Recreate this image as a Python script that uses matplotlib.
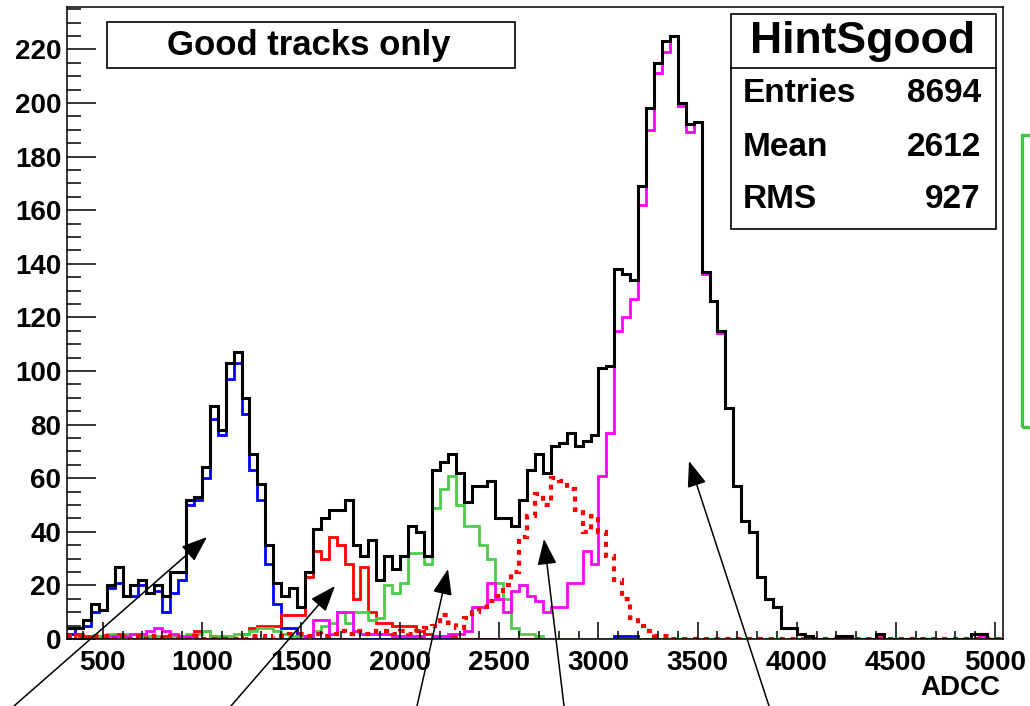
import numpy as np
import matplotlib
matplotlib.use("Agg")
import matplotlib.pyplot as plt
from matplotlib.patches import Rectangle, FancyArrowPatch
from matplotlib.ticker import MultipleLocator

plt.rcParams["font.family"] = ["Liberation Sans", "DejaVu Sans"]
plt.rcParams["font.weight"] = "bold"

# ADCC histogram: 118 bins of 40 counts, 320 .. 5040
edges = np.arange(320, 5041, 40)

total = [4, 4, 7, 13, 11, 20, 27, 16, 20, 22, 17, 20, 16, 25, 25, 52, 53, 64, 87, 78,
         103, 107, 90, 69, 58, 35, 21, 16, 19, 12, 25, 41, 45, 48, 48, 52, 35, 31, 37, 22,
         31, 26, 31, 42, 40, 31, 63, 66, 69, 62, 51, 57, 57, 59, 45, 45, 42, 52, 63, 69,
         62, 72, 73, 77, 72, 74, 76, 101, 102, 138, 136, 134, 169, 198, 215, 223, 225, 200, 192, 193,
         137, 126, 115, 86, 57, 44, 40, 23, 15, 12, 4, 4, 2, 1, 0, 0, 0, 1, 1, 0,
         0, 0, 2, 0, 0, 0, 0, 0, 0, 0, 0, 0, 0, 0, 2, 2, 0, 0]

blue = [2, 4, 5, 10, 11, 19, 21, 16, 16, 20, 17, 18, 10, 17, 22, 50, 52, 60, 82, 76,
        97, 103, 84, 63, 52, 28, 13, 4, 4, 0, 1, 0, 0, 0, 0, 0, 0, 0, 0, 0,
        0, 0, 0, 0, 0, 0, 0, 0, 0, 0, 0, 0, 0, 0, 0, 0, 0, 0, 0, 0,
        0, 0, 0, 0, 0, 0, 0, 0, 0, 1, 1, 1, 0, 0, 0, 0, 0, 0, 0, 0,
        0, 0, 0, 0, 0, 0, 0, 0, 0, 0, 0, 0, 0, 0, 0, 0, 0, 0, 0, 0,
        0, 0, 0, 0, 0, 0, 0, 0, 0, 0, 0, 0, 0, 0, 0, 0, 0, 0]

red = [0, 2, 1, 0, 1, 0, 2, 1, 0, 2, 1, 0, 1, 0, 0, 0, 3, 3, 1, 1,
       0, 0, 2, 4, 5, 5, 5, 9, 9, 9, 23, 33, 30, 38, 35, 28, 15, 27, 10, 6,
       6, 5, 5, 5, 3, 2, 1, 1, 1, 0, 0, 0, 0, 0, 0, 0, 0, 0, 0, 0,
       0, 0, 0, 0, 0, 0, 0, 0, 0, 0, 0, 0, 0, 0, 0, 0, 0, 0, 0, 0,
       0, 0, 0, 0, 0, 0, 0, 0, 0, 0, 0, 0, 0, 0, 0, 0, 0, 0, 0, 0,
       0, 0, 0, 0, 0, 0, 0, 0, 0, 0, 0, 0, 0, 0, 0, 0, 0, 0]

green = [0, 0, 0, 0, 1, 2, 1, 2, 2, 1, 1, 1, 0, 1, 0, 2, 2, 3, 1, 1,
         1, 2, 2, 3, 4, 4, 3, 2, 1, 1, 1, 3, 5, 6, 10, 6, 10, 10, 7, 8,
         20, 17, 21, 32, 32, 28, 49, 56, 61, 50, 42, 42, 35, 30, 21, 15, 4, 2, 2, 1,
         0, 0, 0, 0, 0, 0, 0, 0, 0, 0, 0, 0, 0, 0, 0, 0, 0, 0, 0, 0,
         0, 0, 0, 0, 0, 0, 0, 0, 0, 0, 0, 0, 0, 0, 0, 0, 0, 0, 0, 0,
         0, 0, 0, 0, 0, 0, 0, 0, 0, 0, 0, 0, 0, 0, 0, 0, 0, 0]

magenta = [0, 0, 0, 0, 0, 1, 1, 1, 2, 2, 3, 4, 3, 2, 1, 1, 0, 0, 0, 0,
           0, 0, 0, 0, 0, 0, 0, 0, 0, 0, 1, 7, 7, 2, 10, 10, 3, 2, 2, 2,
           2, 1, 1, 1, 1, 0, 1, 1, 2, 2, 3, 12, 12, 21, 15, 10, 18, 20, 16, 14,
           10, 12, 12, 21, 21, 33, 28, 61, 77, 115, 120, 127, 162, 190, 211, 219, 225, 199, 189, 193,
           136, 126, 114, 86, 57, 44, 40, 23, 15, 12, 4, 4, 2, 1, 0, 0, 0, 0, 0, 0,
           0, 0, 1, 0, 0, 0, 0, 0, 0, 0, 0, 0, 0, 0, 0, 1, 0, 0]

red_dotted = [1, 1, 0, 1, 1, 0, 1, 0, 0, 1, 0, 1, 0, 1, 0, 0, 1, 0, 0, 0,
              0, 0, 0, 1, 1, 0, 1, 1, 2, 2, 1, 2, 1, 2, 3, 2, 3, 2, 2, 3,
              3, 2, 3, 2, 3, 4, 5, 9, 6, 4, 8, 10, 12, 14, 16, 20, 25, 38, 46, 54,
              50, 60, 59, 56, 48, 40, 46, 40, 31, 22, 15, 8, 5, 3, 1, 1, 0, 0, 0, 0,
              0, 0, 0, 0, 0, 0, 0, 0, 0, 0, 0, 0, 0, 0, 0, 0, 0, 0, 0, 0,
              0, 0, 0, 0, 0, 0, 0, 0, 0, 0, 0, 0, 0, 0, 0, 0, 0, 0]

fig = plt.figure(figsize=(10.3, 7.06), dpi=100)
W, H = 1030.0, 706.0
ax = fig.add_axes([67 / W, 1 - 639 / H, (1003 - 67) / W, (639 - 7) / H])

ax.stairs(blue, edges, baseline=None, color="#0000ff", lw=2.0)
ax.stairs(red, edges, baseline=None, color="#ff0000", lw=2.0)
ax.stairs(green, edges, baseline=None, color="#4ccc4c", lw=2.0)
ax.stairs(magenta, edges, baseline=None, color="#ff00ff", lw=2.0)
ax.stairs(red_dotted, edges, baseline=None, color="#ff0000", lw=3.0,
          linestyle=(0, (1.2, 1.4)))
ax.stairs(total, edges, baseline=None, color="black", lw=2.2)

ax.set_xlim(320, 5040)
ax.set_ylim(0, 235.8)
ax.xaxis.set_major_locator(MultipleLocator(500))
ax.xaxis.set_minor_locator(MultipleLocator(100))
ax.yaxis.set_major_locator(MultipleLocator(20))
ax.yaxis.set_minor_locator(MultipleLocator(5))
ax.tick_params(axis="both", which="both", direction="in", width=1.1,
               top=False, right=False, labelsize=20)
ax.tick_params(axis="y", which="major", length=21, pad=4)
ax.tick_params(axis="y", which="minor", length=10)
ax.tick_params(axis="x", which="major", length=12, pad=8)
ax.tick_params(axis="x", which="minor", length=6)
for lab in ax.get_xticklabels() + ax.get_yticklabels():
    lab.set_fontweight("bold")
for sp in ax.spines.values():
    sp.set_linewidth(1.1)

fig.text(1000 / W, 1 - 688 / H, "ADCC", ha="right", va="center",
         fontsize=20, fontweight="bold")

# title box
fig.add_artist(Rectangle((107 / W, 1 - 68 / H), (515 - 107) / W, 46 / H,
                         transform=fig.transFigure, facecolor="white",
                         edgecolor="black", lw=1.2))
fig.text(309 / W, 1 - 46 / H, "Good tracks only", ha="center", va="center",
         fontsize=25, fontweight="bold")

# stats box
fig.add_artist(Rectangle((731 / W, 1 - 229 / H), (996 - 731) / W, (229 - 14) / H,
                         transform=fig.transFigure, facecolor="white",
                         edgecolor="black", lw=1.2))
fig.add_artist(plt.Line2D([731 / W, 996 / W], [1 - 68 / H, 1 - 68 / H],
                          transform=fig.transFigure, color="black", lw=1.2))
fig.text(863 / W, 1 - 42 / H, "HintSgood", ha="center", va="center",
         fontsize=32, fontweight="bold")
for name, val, yy in [("Entries", "8694", 93), ("Mean", "2612", 147), ("RMS", "927", 200)]:
    fig.text(743 / W, 1 - yy / H, name, ha="left", va="center", fontsize=24, fontweight="bold")
    fig.text(981 / W, 1 - yy / H, val, ha="right", va="center", fontsize=24, fontweight="bold")

# legend box running off the right edge
fig.add_artist(Rectangle((1022 / W, 1 - 427 / H), 30 / W, (427 - 135) / H,
                         transform=fig.transFigure, facecolor="none",
                         edgecolor="#3cc83c", lw=2.4, clip_on=False))

# arrows pointing at the peaks
arrows = [((14, 706), (207, 537)), ((231, 706), (335, 586)), ((417, 706), (448, 569)),
          ((564, 706), (544, 539)), ((769, 706), (689, 461))]
for (x0, y0), (x1, y1) in arrows:
    fig.add_artist(FancyArrowPatch((x0 / W, 1 - y0 / H), (x1 / W, 1 - y1 / H),
                                   transform=fig.transFigure,
                                   arrowstyle="-|>,head_length=0.8,head_width=0.3",
                                   mutation_scale=20, shrinkA=0, shrinkB=0,
                                   color="black", lw=1.1))

fig.savefig("out.png", dpi=100)
